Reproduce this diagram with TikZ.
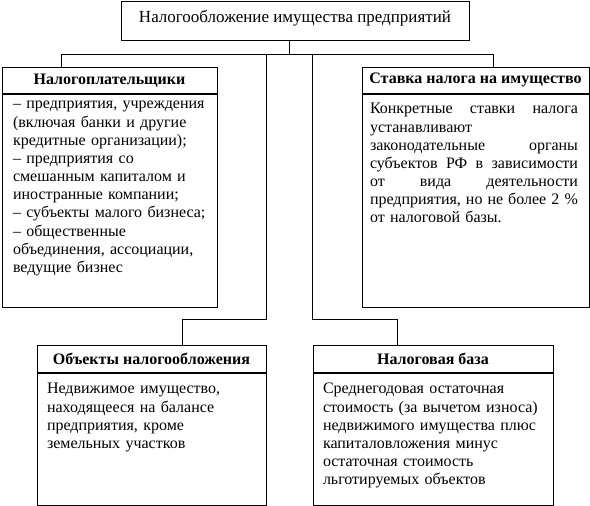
\documentclass[tikz,border=0pt]{standalone}
\usepackage{fontspec}
\setmainfont{Liberation Serif}
\usetikzlibrary{positioning}
\newcommand{\boxfont}{\fontsize{16}{18.2}\selectfont}

\begin{document}
\begin{tikzpicture}[x=1pt, y=1pt, line width=0.8pt,
	titlebox/.style={draw, anchor=north, font=\fontsize{17}{20}\selectfont, minimum width=348pt, minimum height=39pt, inner sep=0pt, text height=11pt, text depth=8pt},
	boxhead/.style={draw, anchor=north, font=\boxfont\bfseries, minimum height=26pt, inner sep=0pt},
	boxbody/.style={draw, inner sep=0pt},
	boxtext/.style={anchor=base west, align=left, inner sep=0pt, font=\boxfont}]
	% Fix the page size.
	\useasboundingbox (0,0) rectangle (590,-506);

	\node[titlebox] (title) at (295,-1) {Налогообложение имущества предприятий};

	% Upper boxes.
	\node[boxhead, minimum width=215pt] (payH) at (109.5,-67) {Налогоплательщики};
	\node[boxbody, minimum width=215pt, minimum height=213pt, below=0pt of payH] (payB) {};
	\node[boxtext, text width=200pt] (payT) at ([xshift=11pt, yshift=-15pt]payB.north west)
		{– предприятия, учреждения\\ (включая банки и другие\\ кредитные организации);\\
		 – предприятия со\\ смешанным капиталом и\\ иностранные компании;\\
		 – субъекты малого бизнеса;\\ – общественные\\ объединения, ассоциации,\\ ведущие бизнес};

	\node[boxhead, minimum width=227pt] (rateH) at (475.5,-67) {Ставка налога на имущество};
	\node[boxbody, minimum width=227pt, minimum height=213pt, below=0pt of rateH] (rateB) {};
	\node[boxtext, text width=208pt] (rateT) at ([xshift=8pt, yshift=-20pt]rateB.north west)
		{Конкретные\hfill ставки\hfill налога\\ устанавливают\\ законодательные\hfill органы\\
		 субъектов\hfill РФ\hfill в\hfill зависимости\\ от\hfill вида\hfill деятельности\\
		 предприятия,\hfill но\hfill не\hfill более\hfill 2~\%\\ от налоговой базы.};

	% Lower boxes.
	\node[boxhead, minimum width=229pt, minimum height=27pt] (objH) at (151.5,-345) {Объекты налогообложения};
	\node[boxbody, minimum width=229pt, minimum height=132pt, below=0pt of objH] (objB) {};
	\node[boxtext, text width=210pt] (objT) at ([xshift=10pt, yshift=-21pt]objB.north west)
		{Недвижимое имущество,\\ находящееся на балансе\\ предприятия, кроме\\ земельных участков};

	\node[boxhead, minimum width=240pt, minimum height=27pt] (baseH) at (433,-345) {Налоговая база};
	\node[boxbody, minimum width=240pt, minimum height=132pt, below=0pt of baseH] (baseB) {};
	\node[boxtext, text width=225pt] (baseT) at ([xshift=10pt, yshift=-21pt]baseB.north west)
		{Среднегодовая остаточная\\ стоимость (за вычетом износа)\\ недвижимого имущества плюс\\
		 капиталовложения минус\\ остаточная стоимость\\ льготируемых объектов};

	% Connecting lines.
	\coordinate (bus) at ([xshift=-6pt, yshift=-14pt]title.south);
	\draw ([xshift=-6pt]title.south) -- (bus);
	\draw ([xshift=-48.5pt]payH.north) |- (bus) -| ([xshift=17.5pt]rateH.north);
	\draw (bus -| objH.east) -- ++(0,-265) -| ([xshift=30.5pt]objH.north);
	\draw (bus -| baseH.west) -- ++(0,-265) -| ([xshift=-36pt]baseH.north);
\end{tikzpicture}
\end{document}
